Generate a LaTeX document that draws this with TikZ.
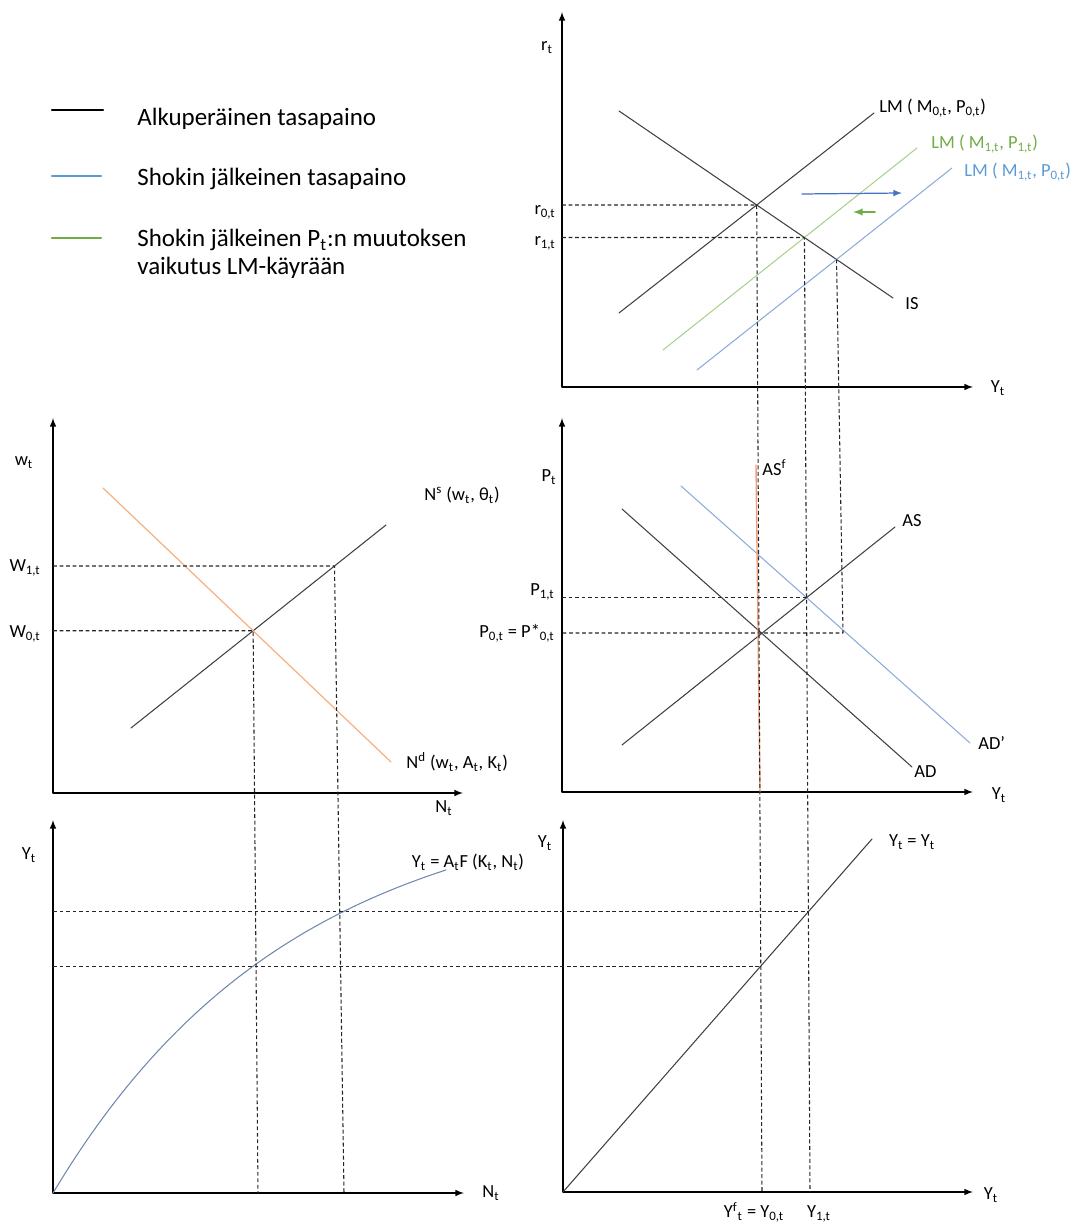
\documentclass[tikz,border=0pt]{standalone}
\usepackage{fontspec}
\setmainfont{Carlito}
\definecolor{viiva}{HTML}{404040}
\definecolor{sininen}{HTML}{5B9BD5}
\definecolor{vaalsin}{HTML}{8EA9DB}
\definecolor{tumsin}{HTML}{4472C4}
\definecolor{vihrea}{HTML}{70AD47}
\definecolor{vaalvihr}{HTML}{A9D18E}
\definecolor{oranssi}{HTML}{F4B183}
\definecolor{tumora}{HTML}{F2A07C}
\begin{document}
\begin{tikzpicture}[scale=2,>=latex, font=\fontsize{10.5}{13}\selectfont, line join=round, line cap=round,
	kayra/.style={viiva, line width=0.6pt},
	katko/.style={black!85, line width=0.6pt, line cap=butt, dash pattern=on 2.2pt off 1.5pt},
	akseli/.style={<->, line width=0.7pt},
	selite/.style={line width=1.4pt},
	selteksti/.style={anchor=base west, inner sep=0pt, font=\fontsize{14.2}{16}\selectfont},
	lmerkki/.style={anchor=west, inner sep=0pt},
	rmerkki/.style={anchor=east, inner sep=0pt}]
	\useasboundingbox (0,0) rectangle (10.77,12.25);
	% Selite
	\draw[selite,black] (0.52,11.15)--(1.03,11.15);
	\draw[selite,sininen] (0.52,10.49)--(1.01,10.49);
	\draw[selite,vihrea] (0.52,9.87)--(1.01,9.87);
	\node[selteksti] (s1) at (1.37,10.99) {Alkuperäinen tasapaino};
	\node[selteksti] (s2) at (1.37,10.39) {Shokin jälkeinen tasapaino};
	\node[selteksti, align=left] (s3) at (1.37,9.50) {Shokin jälkeinen P\textsubscript{t}:n muutoksen\\vaikutus LM-käyrään};
	% Akselit
	\coordinate (O1) at (5.62,8.38); \coordinate (O2) at (5.62,4.33);
	\coordinate (O3) at (0.53,4.32); \coordinate (O4) at (0.53,0.32);
	\coordinate (O5) at (5.63,0.33);
	\foreach \ox/\oy/\xe/\yt in {5.62/8.38/9.73/12.13, 5.62/4.33/9.73/8.07, 0.53/4.32/4.63/8.07, 0.53/0.32/4.64/4.05, 5.63/0.33/9.73/4.05}
		\draw[akseli] (\ox,\yt) |- (\xe,\oy);
	% IS-LM
	\coordinate (IS1) at (6.19,11.14); \coordinate (IS2) at (8.93,9.27);
	\coordinate (LMa1) at (6.19,9.12); \coordinate (LMa2) at (8.74,11.12);
	\coordinate (LMv1) at (6.63,8.75); \coordinate (LMv2) at (9.17,10.77);
	\coordinate (LMs1) at (6.97,8.55); \coordinate (LMs2) at (9.52,10.57);
	\draw[kayra] (IS1)--(IS2);
	\draw[kayra] (LMa1)--(LMa2);
	\draw[vaalvihr, line width=0.6pt] (LMv1)--(LMv2);
	\draw[vaalsin, line width=0.6pt] (LMs1)--(LMs2);
	\coordinate (E0) at (intersection of IS1--IS2 and LMa1--LMa2);
	\coordinate (E1) at (intersection of IS1--IS2 and LMv1--LMv2);
	\coordinate (E2) at (intersection of IS1--IS2 and LMs1--LMs2);
	\coordinate (nuolis1) at (8.02,10.31); \coordinate (nuolis2) at (9.02,10.32);
	\coordinate (nuoliv1) at (8.75,10.13); \coordinate (nuoliv2) at (8.53,10.13);
	\draw[->, tumsin, line width=0.7pt] (nuolis1)--(nuolis2);
	\draw[->, vihrea, line width=0.9pt] (nuoliv1)--(nuoliv2);
	\node (rt) at (5.47,11.77) {r\textsubscript{t}};
	\node (Yt1) at (9.98,8.37) {Y\textsubscript{t}};
	\node (IS) at (9.12,9.21) {IS};
	\node[lmerkki] (LMa) at (8.79,11.17) {LM ( M\textsubscript{0,t}, P\textsubscript{0,t})};
	\node[lmerkki, vihrea] (LMv) at (9.31,10.81) {LM ( M\textsubscript{1,t}, P\textsubscript{1,t})};
	\node[lmerkki, sininen] (LMs) at (9.64,10.53) {LM ( M\textsubscript{1,t}, P\textsubscript{0,t})};
	\node[rmerkki] (r0) at (5.56,10.13) {r\textsubscript{0,t}};
	\node[rmerkki] (r1) at (5.56,9.82) {r\textsubscript{1,t}};
	% AS-AD
	\coordinate (ASf1) at (7.56,7.60); \coordinate (ASf2) at (7.60,4.33);
	\coordinate (ADu1) at (6.81,7.39); \coordinate (ADu2) at (9.70,4.82);
	\coordinate (AD1) at (6.22,7.16); \coordinate (AD2) at (9.12,4.58);
	\coordinate (AS1) at (6.22,4.80); \coordinate (AS2) at (8.95,6.98);
	\draw[vaalsin, line width=0.6pt] (ADu1)--(ADu2);
	\draw[kayra] (AD1)--(AD2);
	\draw[kayra] (AS1)--(AS2);
	\draw[tumora, line width=0.8pt] (ASf1)--(ASf2);
	\coordinate (F1) at (intersection of AS1--AS2 and ADu1--ADu2);
	\coordinate (K) at (8.43,5.92);
	\node (Pt) at (5.49,7.48) {P\textsubscript{t}};
	\node (Yt2) at (9.99,4.30) {Y\textsubscript{t}};
	\node[lmerkki] (ASf) at (7.62,7.57) {AS\textsuperscript{f}};
	\node[lmerkki] (ADu) at (9.78,4.82) {AD’};
	\node[lmerkki] (AD) at (9.14,4.53) {AD};
	\node[lmerkki] (AS) at (9.02,7.04) {AS};
	\node[rmerkki] (P1) at (5.55,6.33) {P\textsubscript{1,t}};
	\node[rmerkki] (P0) at (5.55,5.92) {P\textsubscript{0,t} = P*\textsubscript{0,t}};
	% Työmarkkinat
	\coordinate (Ns1) at (1.31,4.97); \coordinate (Ns2) at (3.86,7.00);
	\coordinate (Nd1) at (1.03,7.37); \coordinate (Nd2) at (3.91,4.63);
	\draw[kayra] (Ns1)--(Ns2);
	\draw[oranssi, line width=0.7pt] (Nd1)--(Nd2);
	\coordinate (G0) at (intersection of Ns1--Ns2 and Nd1--Nd2);
	\coordinate (G1) at (3.345,6.59);
	\node (wt) at (0.24,7.62) {w\textsubscript{t}};
	\node (Nt1) at (4.44,4.17) {N\textsubscript{t}};
	\node[lmerkki] (Ns) at (4.24,7.30) {N\textsuperscript{s} (w\textsubscript{t}, θ\textsubscript{t})};
	\node[lmerkki] (Nd) at (4.06,4.63) {N\textsuperscript{d} (w\textsubscript{t}, A\textsubscript{t}, K\textsubscript{t})};
	\node[rmerkki] (W1) at (0.41,6.57) {W\textsubscript{1,t}};
	\node[rmerkki] (W0) at (0.41,5.91) {W\textsubscript{0,t}};
	% Tuotantofunktio ja 45 asteen suora
	\draw[vaalsin!80!black, line width=0.6pt, smooth, samples=80, domain=0:3.93] plot ({0.53+\x},{0.32+4.01*(1-exp(-\x/2.4))});
	\coordinate (T1) at (8.72,3.86);
	\draw[kayra] (O5)--(T1);
	\node (Yt3) at (0.29,3.70) {Y\textsubscript{t}};
	\node (Nt2) at (4.91,0.32) {N\textsubscript{t}};
	\node (YF) at (4.68,3.63) {Y\textsubscript{t} = A\textsubscript{t}F (K\textsubscript{t}, N\textsubscript{t})};
	\node (Yt4) at (5.45,3.82) {Y\textsubscript{t}};
	\node (Yt5) at (9.91,0.30) {Y\textsubscript{t}};
	\node (YY) at (9.12,3.83) {Y\textsubscript{t} = Y\textsubscript{t}};
	\node[anchor=base] (Y0) at (7.54,0.07) {Y\textsuperscript{f}\textsubscript{t} = Y\textsubscript{0,t}};
	\node[anchor=base] (Y1) at (8.19,0.07) {Y\textsubscript{1,t}};
	% Katkoviivat
	\coordinate (V0) at (7.62,0.33); \coordinate (V1) at (8.10,0.33);
	\coordinate (U0) at (2.58,0.32); \coordinate (U1) at (3.44,0.32);
	\coordinate (H0) at (intersection of O5--T1 and E0--V0);
	\coordinate (H1) at (intersection of O5--T1 and E1--V1);
	\draw[katko] (O1|-E0)--(E0)--(V0);
	\draw[katko] (O1|-E1)--(E1)--(V1);
	\draw[katko] (E2)--(K)--(O2|-K);
	\draw[katko] (O2|-F1)--(F1);
	\draw[katko] (O3|-G0)--(G0)--(U0);
	\draw[katko] (O3|-G1)--(G1)--(U1);
	\draw[katko] (O4|-H0)--(H0);
	\draw[katko] (O4|-H1)--(H1);
\end{tikzpicture}
\end{document}
